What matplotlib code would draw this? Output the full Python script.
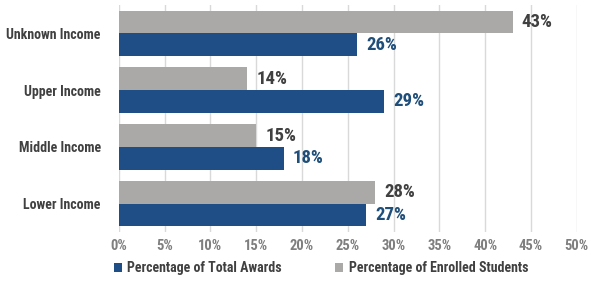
import matplotlib
matplotlib.use("Agg")
import matplotlib.pyplot as plt
from matplotlib.ticker import FuncFormatter
import numpy as np

categories = ["Unknown Income", "Upper Income", "Middle Income", "Lower Income"]
awards = [26, 29, 18, 27]
enrolled = [43, 14, 15, 28]
xticks = [0, 5, 10, 15, 20, 25, 30, 35, 40, 45, 50]

BLUE = "#1F4E87"
GRAY = "#ABA8A8"
FONT = ["Roboto Condensed", "DejaVu Sans"]
plt.rcParams['font.family'] = FONT

fig = plt.figure(figsize=(5.91, 2.93), dpi=100)
ax = fig.add_axes([0.201, 0.208, 0.775, 0.775])

y = np.arange(len(categories))
h = 0.4
ax.barh(y - h/2, enrolled, height=h, color=GRAY, label="Percentage of Enrolled Students", zorder=3)
ax.barh(y + h/2, awards, height=h, color=BLUE, label="Percentage of Total Awards", zorder=3)

for yi, v in zip(y, enrolled):
    ax.text(v + 1.0, yi - h/2, f"{v}%", va="center", ha="left", fontsize=13.5, fontweight="bold", color="#404040")
for yi, v in zip(y, awards):
    ax.text(v + 1.0, yi + h/2, f"{v}%", va="center", ha="left", fontsize=13.5, fontweight="bold", color="#1F4E79")

ax.set_ylim(3.5, -0.5)
ax.set_xlim(0, 50)
ax.set_xticks(xticks)
ax.xaxis.set_major_formatter(FuncFormatter(lambda v, p: f"{int(v)}%"))
ax.set_yticks(y)
ax.set_yticklabels(categories, fontsize=10, fontweight="bold", color="#404040")
ax.tick_params(axis="x", labelsize=10.5, colors="#7F7F7F", length=0, pad=5)
ax.tick_params(axis="y", length=0, pad=13)
for lbl in ax.get_xticklabels():
    lbl.set_fontweight("bold")
ax.grid(axis="x", color="#D9D9D9", linewidth=1, zorder=0)
for s in ax.spines.values():
    s.set_visible(False)

handles, labels = ax.get_legend_handles_labels()
leg = fig.legend(handles[::-1], labels[::-1], loc="center", bbox_to_anchor=(0.543, 0.085), ncol=2,
                 frameon=False, fontsize=10, handlelength=0.6, handleheight=0.6,
                 columnspacing=3.8, handletextpad=0.4)
for t in leg.get_texts():
    t.set_fontweight("bold")
    t.set_color("#404040")

fig.savefig("out.png", dpi=100)
